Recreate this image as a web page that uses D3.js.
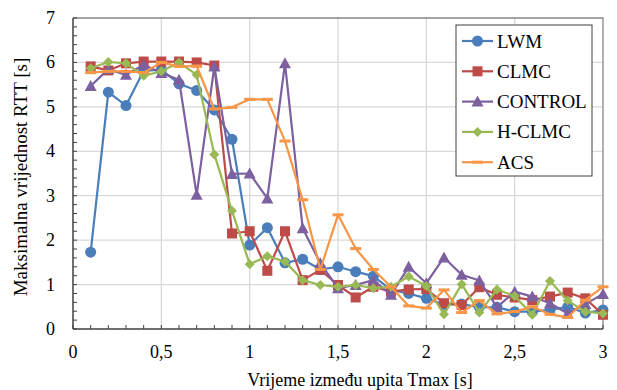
<!DOCTYPE html>
<html>
<head>
<meta charset="utf-8">
<script src="https://cdn.jsdelivr.net/npm/d3@7"></script>
</head>
<body style="margin:0">
<div id="chart"></div>
<script>
// Data (x = Tmax in s, values = max RTT in s)
const xValues = [0.1, 0.2, 0.3, 0.4, 0.5, 0.6, 0.7, 0.8, 0.9, 1.0,
                 1.1, 1.2, 1.3, 1.4, 1.5, 1.6, 1.7, 1.8, 1.9, 2.0,
                 2.1, 2.2, 2.3, 2.4, 2.5, 2.6, 2.7, 2.8, 2.9, 3.0];
const lwm = [1.73, 5.33, 5.03, 5.81, 5.84, 5.52, 5.37, 4.93, 4.27, 1.89,
             2.28, 1.49, 1.57, 1.34, 1.40, 1.29, 1.19, 0.88, 0.80, 0.69,
             0.55, 0.56, 0.49, 0.49, 0.39, 0.39, 0.43, 0.50, 0.36, 0.43];
const clmc = [5.91, 5.82, 5.98, 6.02, 6.02, 6.02, 6.0, 5.93, 2.15, 2.2,
              1.31, 2.2, 1.10, 1.33, 0.99, 0.71, 0.95, 0.84, 0.89, 0.90,
              0.58, 0.54, 0.94, 0.77, 0.71, 0.65, 0.73, 0.82, 0.69, 0.32];
const control = [5.47, 5.85, 5.72, 5.95, 5.76, 5.61, 3.02, 5.91, 3.49, 3.5,
                 2.94, 5.98, 2.27, 1.48, 0.92, 0.99, 1.10, 0.77, 1.40, 1.03,
                 1.61, 1.22, 1.09, 0.49, 0.84, 0.73, 0.58, 0.35, 0.56, 0.79];
const hclmc = [5.87, 6.01, 5.98, 5.70, 5.80, 6.0, 5.72, 3.93, 2.66, 1.46,
               1.64, 1.52, 1.10, 0.99, 0.95, 0.99, 0.92, 0.95, 1.18, 0.97,
               0.33, 1.01, 0.37, 0.89, 0.74, 0.32, 1.08, 0.64, 0.39, 0.35];
const acs = [5.77, 5.80, 5.80, 5.77, 6.0, 5.91, 5.92, 4.95, 4.99, 5.17,
             5.17, 4.23, 2.91, 1.34, 2.57, 1.81, 1.34, 0.95, 0.52, 0.47,
             0.88, 0.37, 0.64, 0.34, 0.39, 0.50, 0.33, 0.26, 0.65, 0.95];

const seriesNames = ["LWM", "CLMC", "CONTROL", "H-CLMC", "ACS"];
const seriesValues = [lwm, clmc, control, hclmc, acs];
const seriesColors = ["#4a7ebb", "#be4b48", "#7d60a0", "#98b954", "#f79646"];
const seriesMarkers = ["circle", "square", "triangle", "diamond", "dash"];

const xTicks = [0, 0.5, 1, 1.5, 2, 2.5, 3];
const yTicks = [0, 1, 2, 3, 4, 5, 6, 7];

const W = 617, H = 390;
const margin = { top: 18, right: 14, bottom: 61, left: 73 };
const width = W - margin.left - margin.right;
const height = H - margin.top - margin.bottom;

// serif font as attribute and inline style
function serif(sel, size) {
    return sel.attr("font-family", "Liberation Serif")
        .attr("font-size", size)
        .style("font-family", "'Liberation Serif'")
        .attr("fill", "#000");
}

const svg = d3.select("#chart").append("svg")
    .attr("width", W).attr("height", H);
const g = svg.append("g").attr("transform", `translate(${margin.left},${margin.top})`);

const x = d3.scaleLinear().domain([0, 3]).range([0, width]);
const y = d3.scaleLinear().domain([0, 7]).range([height, 0]);
const fmt = d => String(d).replace(".", ",");

// grid
g.append("g").selectAll("line").data(xTicks.slice(1, -1)).enter().append("line")
    .attr("x1", d => x(d)).attr("x2", d => x(d))
    .attr("y1", 0).attr("y2", height)
    .attr("stroke", "#d9d9d9").attr("stroke-width", 1.3);
g.append("g").selectAll("line").data(yTicks.slice(1, -1)).enter().append("line")
    .attr("x1", 0).attr("x2", width)
    .attr("y1", d => y(d)).attr("y2", d => y(d))
    .attr("stroke", "#d9d9d9").attr("stroke-width", 1.3);

// frame (top/right)
g.append("path")
    .attr("d", `M0,0H${width}V${height}`)
    .attr("fill", "none").attr("stroke", "#878787").attr("stroke-width", 1.3);

// minor ticks inside
const xMinor = d3.range(0, 31).map(i => i / 10);
const yMinor = d3.range(0, 36).map(i => i / 5);
g.append("g").selectAll("line").data(xMinor).enter().append("line")
    .attr("x1", d => x(d)).attr("x2", d => x(d))
    .attr("y1", height).attr("y2", height - 4)
    .attr("stroke", "#404040").attr("stroke-width", 1);
g.append("g").selectAll("line").data(yMinor).enter().append("line")
    .attr("x1", 0).attr("x2", 4)
    .attr("y1", d => y(d)).attr("y2", d => y(d))
    .attr("stroke", "#404040").attr("stroke-width", 1);

// axes lines
g.append("line").attr("x1", 0).attr("x2", width).attr("y1", height).attr("y2", height)
    .attr("stroke", "#404040").attr("stroke-width", 1.5);
g.append("line").attr("x1", 0).attr("x2", 0).attr("y1", 0).attr("y2", height)
    .attr("stroke", "#404040").attr("stroke-width", 1.5);

// tick labels
serif(g.append("g").selectAll("text").data(xTicks).enter().append("text")
    .attr("x", d => x(d)).attr("y", height + 29)
    .attr("text-anchor", "middle"), 18)
    .text(fmt);
serif(g.append("g").selectAll("text").data(yTicks).enter().append("text")
    .attr("x", -18).attr("y", d => y(d) + 6)
    .attr("text-anchor", "end"), 18)
    .text(fmt);

// axis titles
serif(svg.append("text")
    .attr("x", 360).attr("y", 386)
    .attr("text-anchor", "middle"), 18)
    .text("Vrijeme između upita Tmax [s]");
serif(svg.append("text")
    .attr("transform", "translate(27,177) rotate(-90)")
    .attr("text-anchor", "middle"), 19)
    .text("Maksimalna vrijednost RTT [s]");

function drawMarker(sel, type, color) {
    if (type === "circle") {
        sel.append("circle").attr("r", 5.5).attr("fill", color);
    } else if (type === "square") {
        sel.append("rect").attr("x", -5).attr("y", -5).attr("width", 10).attr("height", 10)
            .attr("fill", color);
    } else if (type === "triangle") {
        sel.append("path").attr("d", "M0,-6L6,5H-6Z").attr("fill", color);
    } else if (type === "diamond") {
        sel.append("path").attr("d", "M0,-5L5,0L0,5L-5,0Z").attr("fill", color);
    } else {
        sel.append("rect").attr("x", -5.5).attr("y", -1.5).attr("width", 11).attr("height", 3)
            .attr("fill", color);
    }
}

const line = d3.line().x(d => x(d[0])).y(d => y(d[1]));

seriesValues.forEach((vals, i) => {
    const pts = xValues.map((xv, j) => [xv, vals[j]]);
    const sg = g.append("g");
    sg.append("path").datum(pts)
        .attr("d", line)
        .attr("fill", "none")
        .attr("stroke", seriesColors[i])
        .attr("stroke-width", 2.2)
        .attr("stroke-linejoin", "round");
    sg.selectAll("g").data(pts).enter().append("g")
        .attr("transform", d => `translate(${x(d[0])},${y(d[1])})`)
        .each(function () { drawMarker(d3.select(this), seriesMarkers[i], seriesColors[i]); });
});

// legend
const lg = svg.append("g").attr("transform", "translate(456,25)");
lg.append("rect").attr("width", 136).attr("height", 151)
    .attr("fill", "#fff").attr("stroke", "#404040").attr("stroke-width", 1);
seriesNames.forEach((name, i) => {
    const yy = 16 + i * 30.3;
    const row = lg.append("g").attr("transform", `translate(0,${yy})`);
    row.append("line").attr("x1", 6).attr("x2", 37).attr("y1", 0).attr("y2", 0)
        .attr("stroke", seriesColors[i]).attr("stroke-width", 2.2);
    const m = row.append("g").attr("transform", "translate(21.5,0)");
    drawMarker(m, seriesMarkers[i], seriesColors[i]);
    serif(row.append("text").attr("x", 41).attr("y", 6.5), 19)
        .text(name);
});
</script>
</body>
</html>
